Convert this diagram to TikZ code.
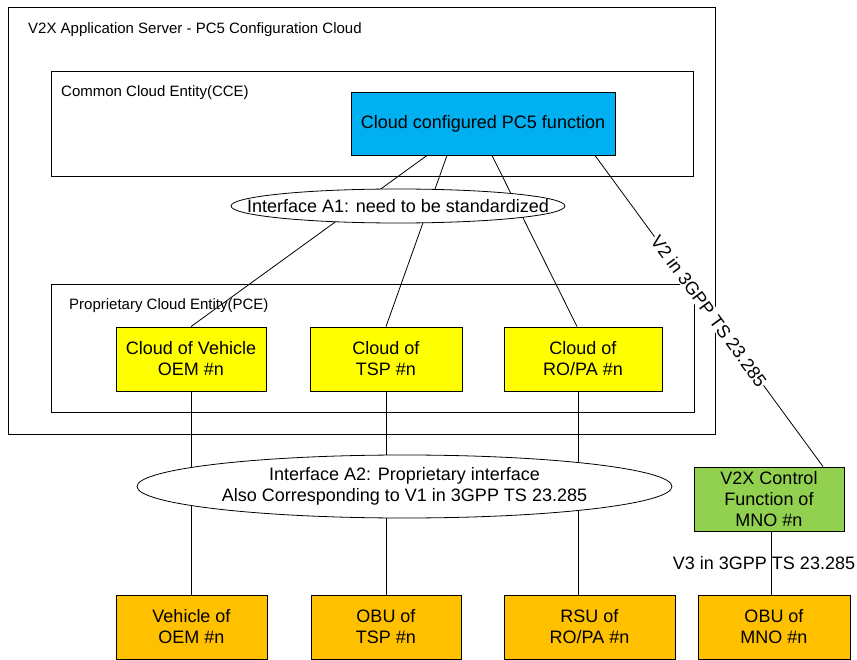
\documentclass[tikz,border=0pt]{standalone}
\usepackage{fontspec}
\setmainfont{Liberation Sans}
\usetikzlibrary{shapes.geometric,calc}
\definecolor{cblue}{HTML}{00B0F0}
\definecolor{cyellow}{HTML}{FFFF00}
\definecolor{corange}{HTML}{FFC000}
\definecolor{cgreen}{HTML}{92D050}
\tikzset{
  box/.style={draw=black, line width=0.9pt, inner sep=0pt, align=center, font=\fontsize{18}{21}\selectfont},
  cont/.style={draw=black, line width=0.9pt, inner sep=0pt},
  lbl/.style={font=\fontsize{15}{18}\selectfont, anchor=base west, inner sep=0pt},
  link/.style={draw=black, line width=0.8pt},
  iface/.style={ellipse, draw=black, fill=white, line width=0.8pt, inner sep=0pt},
  ifacetxt/.style={align=center, inner sep=0pt, font=\fontsize{18}{21}\selectfont},
  biglbl/.style={font=\fontsize{18}{21}\selectfont, inner sep=1pt},
}
\begin{document}
\begin{tikzpicture}[x=1pt,y=-1pt]
\useasboundingbox (0,0) rectangle (857,660);
% containers
\node[cont, minimum width=707pt, minimum height=427pt] (outer) at (361.5,220.5) {};
\node[cont, minimum width=642pt, minimum height=105pt] (cce) at (372,123.5) {};
\node[cont, minimum width=643pt, minimum height=128pt] (pce) at (372.5,348) {};
\node[lbl] (tOuter) at (28,34) {V2X Application Server - PC5 Configuration Cloud};
\node[lbl] (tCce) at (61,97) {Common Cloud Entity(CCE)};
\node[lbl] (tPce) at (69,310) {Proprietary Cloud Entity(PCE)};
% boxes
\node[box, fill=cblue, minimum width=264pt, minimum height=63pt] (blue) at (483,123.5) {Cloud configured PC5 function};
\node[box, fill=cyellow, minimum width=150pt, minimum height=64pt] (yv) at (191,359) {Cloud of Vehicle\\OEM \#n};
\node[box, fill=cyellow, minimum width=152pt, minimum height=64pt] (yt) at (386,359) {Cloud of\\TSP \#n};
\node[box, fill=cyellow, minimum width=158pt, minimum height=64pt] (yr) at (583,359) {Cloud of\\RO/PA \#n};
\node[box, fill=corange, minimum width=151pt, minimum height=64pt] (ov) at (191.5,627) {Vehicle of\\OEM \#n};
\node[box, fill=corange, minimum width=150pt, minimum height=64pt] (ot) at (386,627) {OBU of\\TSP \#n};
\node[box, fill=corange, minimum width=171pt, minimum height=64pt] (orr) at (589.5,627) {RSU of\\RO/PA \#n};
\node[box, fill=corange, minimum width=152pt, minimum height=64pt] (om) at (774,627) {OBU of\\MNO \#n};
\node[box, fill=cgreen, minimum width=150pt, minimum height=64pt] (green) at (769,499) {V2X Control\\Function of\\MNO \#n};
% links
\draw[link] ([xshift=-56pt]blue.south) -- (yv.north);
\draw[link] ([xshift=-36pt]blue.south) -- (yt.north);
\draw[link] ([xshift=9pt]blue.south) -- ([xshift=-6pt]yr.north);
\draw[link] ([xshift=112pt]blue.south) -- node[biglbl, sloped, fill=white] (v2) {V2 in 3GPP TS 23.285} ([xshift=54pt]green.north);
\draw[link] (yv.south) -- (yv.south |- ov.north);
\draw[link] (yt.south) -- (yt.south |- ot.north);
\draw[link] ([xshift=-5pt]yr.south) -- ([xshift=-5pt]yr.south |- orr.north);
\draw[link] ([xshift=2pt]green.south) -- ([xshift=2pt]green.south |- om.north);
% interfaces
\node[iface, minimum width=334pt, minimum height=34pt] (a1) at (398,206) {};
\node[ifacetxt] (a1t) at (a1.center) {Interface A1: need to be standardized};
\node[iface, minimum width=535pt, minimum height=63pt] (a2) at (404.5,486.5) {};
\node[ifacetxt] (a2t) at (a2.center) {Interface A2: Proprietary interface\\Also Corresponding to V1 in 3GPP TS 23.285};
\node[biglbl] (v3) at (764,563) {V3 in 3GPP TS 23.285};
\end{tikzpicture}
\end{document}
